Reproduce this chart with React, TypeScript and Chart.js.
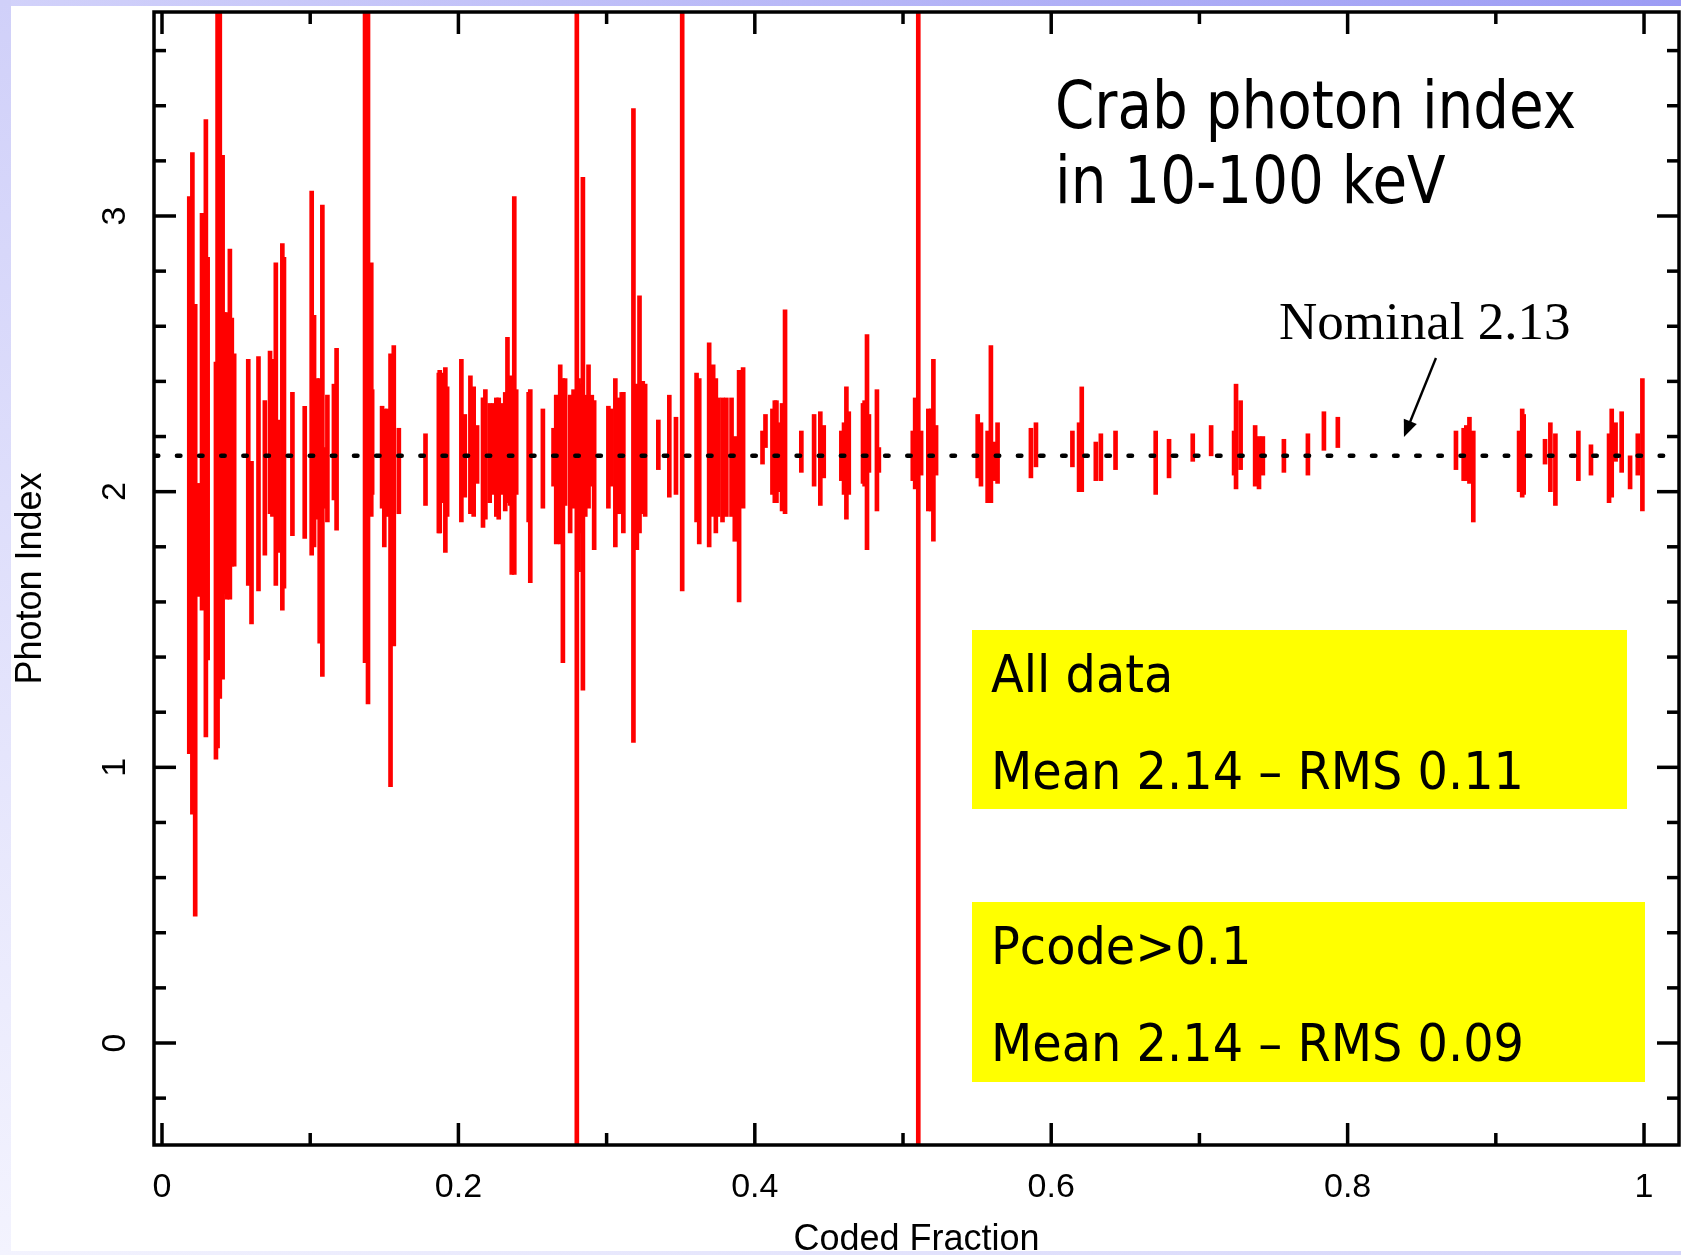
import React, { useEffect, useRef } from 'react';
import { Chart, registerables } from 'chart.js';

Chart.register(...registerables);

// ---- data: coded fraction vs photon index error bars (low / high) ----
const codedFraction = [
  0.0184, 0.0195, 0.0205, 0.0224, 0.0247, 0.0270, 0.0296, 0.0308, 0.0364, 0.0375,
  0.0390, 0.0409, 0.0420, 0.0438, 0.0458, 0.0471, 0.0487, 0.0582, 0.0604, 0.0651,
  0.0694, 0.0729, 0.0745, 0.0768, 0.0781, 0.0812, 0.0823, 0.0880, 0.0963, 0.1010,
  0.1026, 0.1044, 0.1064, 0.1082, 0.1098, 0.1116, 0.1160, 0.1178, 0.1370, 0.1390,
  0.1412, 0.1418, 0.1485, 0.1500, 0.1520, 0.1542, 0.1564, 0.1598, 0.1778, 0.1868,
  0.1874, 0.1897, 0.1912, 0.1924, 0.2020, 0.2043, 0.2081, 0.2103, 0.2126, 0.2166,
  0.2182, 0.2211, 0.2238, 0.2256, 0.2272, 0.2294, 0.2316, 0.2331, 0.2349, 0.2360,
  0.2377, 0.2390, 0.2474, 0.2485, 0.2570, 0.2642, 0.2660, 0.2687, 0.2705, 0.2720,
  0.2754, 0.2777, 0.2799, 0.2811, 0.2826, 0.2840, 0.2856, 0.2878, 0.2900, 0.2916,
  0.3012, 0.3030, 0.3059, 0.3079, 0.3102, 0.3113, 0.3181, 0.3204, 0.3222, 0.3244,
  0.3260, 0.3349, 0.3423, 0.3468, 0.3510, 0.3607, 0.3625, 0.3692, 0.3719, 0.3737,
  0.3753, 0.3782, 0.3808, 0.3843, 0.3865, 0.3894, 0.3921, 0.4052, 0.4072, 0.4119,
  0.4135, 0.4146, 0.4164, 0.4184, 0.4204, 0.4314, 0.4400, 0.4442, 0.4465, 0.4584,
  0.4602, 0.4618, 0.4634, 0.4730, 0.4741, 0.4757, 0.4770, 0.4824, 0.4837, 0.5066,
  0.5082, 0.5103, 0.5122, 0.5171, 0.5190, 0.5205, 0.5223, 0.5504, 0.5526, 0.5571,
  0.5593, 0.5616, 0.5638, 0.5863, 0.5897, 0.6143, 0.6188, 0.6206, 0.6301, 0.6335,
  0.6434, 0.6705, 0.6795, 0.6955, 0.7079, 0.7234, 0.7247, 0.7278, 0.7376, 0.7402,
  0.7428, 0.7570, 0.7732, 0.7840, 0.7934, 0.8731, 0.8783, 0.8801, 0.8822, 0.8848,
  0.9157, 0.9178, 0.9188, 0.9332, 0.9368, 0.9402, 0.9557, 0.9642, 0.9764, 0.9782,
  0.9808, 0.9849, 0.9906, 0.9958, 0.9989,
];

const photonIndexLow = [
  1.05, 1.07, 0.83, 0.46, 1.62, 1.57, 1.11, 1.39, 1.03, 1.07,
  1.25, 1.32, 1.63, 1.61, 1.61, 1.73, 1.73, 1.66, 1.52, 1.64,
  1.77, 1.92, 1.91, 1.66, 1.78, 1.57, 1.65, 1.84, 1.83, 1.77,
  1.80, 1.90, 1.45, 1.33, 1.94, 1.89, 1.97, 1.86, 1.38, 1.23,
  1.91, 1.99, 1.94, 1.80, 1.91, 0.93, 1.44, 1.92, 1.95, 1.85,
  1.85, 1.96, 1.78, 1.91, 1.89, 1.98, 1.92, 1.91, 2.03, 1.87,
  1.90, 1.96, 1.99, 1.91, 1.90, 1.99, 1.93, 1.96, 1.95, 1.70,
  1.70, 1.99, 1.89, 1.67, 1.94, 2.02, 1.81, 1.81, 1.38, 1.95,
  1.85, 1.94, -0.6, 1.71, 1.85, 1.28, 1.91, 1.94, 2.02, 1.79,
  1.94, 2.02, 1.80, 1.92, 1.92, 1.85, 1.09, 1.79, 1.85, 1.92,
  1.91, 2.08, 1.98, 1.99, 1.64, 1.89, 1.81, 1.80, 1.91, 1.85,
  1.91, 1.89, 1.91, 1.91, 1.82, 1.60, 1.94, 2.10, 2.16, 1.99,
  1.96, 1.96, 2.00, 1.93, 1.92, 2.07, 2.02, 1.95, 2.05, 2.04,
  1.99, 1.90, 1.99, 2.03, 2.02, 1.79, 2.07, 1.93, 2.07, 2.04,
  2.01, -0.6, 2.06, 1.93, 1.93, 1.82, 2.06, 2.05, 2.02, 1.96,
  1.96, 2.04, 2.03, 2.05, 2.09, 2.09, 2.00, 2.00, 2.04, 2.04,
  2.08, 1.99, 2.05, 2.11, 2.13, 2.06, 2.01, 2.08, 2.02, 2.01,
  2.06, 2.07, 2.06, 2.15, 2.16, 2.08, 2.04, 2.04, 2.03, 1.89,
  2.00, 1.98, 1.99, 2.10, 2.00, 1.95, 2.04, 2.06, 1.96, 1.98,
  2.11, 2.07, 2.01, 2.06, 1.93,
];

const photonIndexHigh = [
  3.07, 2.77, 3.23, 2.68, 2.03, 3.01, 3.35, 2.85, 2.47, 4.0,
  4.0, 3.22, 2.65, 2.65, 2.88, 2.63, 2.50, 2.48, 2.11, 2.49,
  2.33, 2.51, 2.48, 2.83, 2.26, 2.90, 2.85, 2.36, 2.31, 3.09,
  2.64, 2.41, 2.41, 3.04, 2.16, 2.35, 2.39, 2.52, 4.0, 4.0,
  2.83, 2.37, 2.31, 2.30, 2.30, 2.50, 2.53, 2.23, 2.21, 2.43,
  2.44, 2.43, 2.45, 2.38, 2.48, 2.28, 2.42, 2.38, 2.24, 2.34,
  2.37, 2.32, 2.32, 2.34, 2.34, 2.32, 2.36, 2.56, 2.42, 2.41,
  3.07, 2.37, 2.36, 2.37, 2.30, 2.23, 2.35, 2.46, 2.41, 2.41,
  2.35, 2.37, 4.0, 2.41, 2.39, 3.14, 2.35, 2.46, 2.35, 2.33,
  2.31, 2.30, 2.41, 2.34, 2.36, 2.36, 3.39, 2.39, 2.71, 2.40,
  2.39, 2.26, 2.35, 2.27, 4.0, 2.43, 2.41, 2.54, 2.46, 2.41,
  2.34, 2.34, 2.34, 2.34, 2.20, 2.44, 2.45, 2.22, 2.28, 2.30,
  2.33, 2.33, 2.25, 2.32, 2.66, 2.22, 2.28, 2.29, 2.24, 2.22,
  2.25, 2.38, 2.29, 2.32, 2.33, 2.57, 2.28, 2.37, 2.16, 2.22,
  2.34, 4.0, 2.22, 2.30, 2.30, 2.48, 2.24, 2.28, 2.25, 2.22,
  2.53, 2.18, 2.25, 2.23, 2.25, 2.22, 2.25, 2.38, 2.18, 2.21,
  2.22, 2.22, 2.19, 2.21, 2.24, 2.22, 2.39, 2.33, 2.24, 2.20,
  2.20, 2.19, 2.21, 2.29, 2.27, 2.22, 2.23, 2.24, 2.27, 2.22,
  2.22, 2.30, 2.28, 2.19, 2.25, 2.21, 2.22, 2.17, 2.21, 2.30,
  2.25, 2.29, 2.13, 2.21, 2.41,
];

const NOMINAL_INDEX = 2.13;
const X_MIN = -0.0054;
const X_MAX = 1.0236;
const Y_MIN = -0.37;
const Y_MAX = 3.74;

const xMajorTicks = [0, 0.2, 0.4, 0.6, 0.8, 1];
const xTickLabels = ['0', '0.2', '0.4', '0.6', '0.8', '1'];
const xMinorTicks = [0.1, 0.3, 0.5, 0.7, 0.9];
const yMajorTicks = [0, 1, 2, 3];
const yTickLabels = ['0', '1', '2', '3'];
const yMinorTicks = [-0.2, 0.2, 0.4, 0.6, 0.8, 1.2, 1.4, 1.6, 1.8, 2.2, 2.4, 2.6, 2.8, 3.2, 3.4, 3.6];

const xTitle = 'Coded Fraction';
const yTitle = 'Photon Index';

// annotation arrow (data coordinates)
const arrowTail = { x: 0.8596, y: 2.485 };
const arrowHead = { x: 0.838, y: 2.198 };

const framePlugin = {
  id: 'qdpFrame',
  afterDraw(chart: any) {
    const { ctx, chartArea, scales } = chart;
    const { left, right, top, bottom } = chartArea;
    const xs = scales.x;
    const ys = scales.y;
    const MAJOR = 22;
    const MINOR = 12;
    ctx.save();
    ctx.strokeStyle = '#000';
    ctx.fillStyle = '#000';
    ctx.lineWidth = 3.5;
    ctx.lineCap = 'butt';
    const seg = (x1: number, y1: number, x2: number, y2: number) => {
      ctx.beginPath();
      ctx.moveTo(x1, y1);
      ctx.lineTo(x2, y2);
      ctx.stroke();
    };
    xMajorTicks.forEach((v) => {
      const p = xs.getPixelForValue(v);
      seg(p, bottom, p, bottom - MAJOR);
      seg(p, top, p, top + MAJOR);
    });
    xMinorTicks.forEach((v) => {
      const p = xs.getPixelForValue(v);
      seg(p, bottom, p, bottom - MINOR);
      seg(p, top, p, top + MINOR);
    });
    yMajorTicks.forEach((v) => {
      const p = ys.getPixelForValue(v);
      seg(left, p, left + MAJOR, p);
      seg(right, p, right - MAJOR, p);
    });
    yMinorTicks.forEach((v) => {
      const p = ys.getPixelForValue(v);
      seg(left, p, left + MINOR, p);
      seg(right, p, right - MINOR, p);
    });
    ctx.lineJoin = 'miter';
    ctx.strokeRect(left, top, right - left, bottom - top);

    // tick labels
    ctx.font = '34px "Liberation Sans", Arial, sans-serif';
    ctx.textAlign = 'center';
    ctx.textBaseline = 'alphabetic';
    xMajorTicks.forEach((v, i) => {
      ctx.fillText(xTickLabels[i], xs.getPixelForValue(v), bottom + 52);
    });
    yMajorTicks.forEach((v, i) => {
      ctx.save();
      ctx.translate(left - 29, ys.getPixelForValue(v));
      ctx.rotate(-Math.PI / 2);
      ctx.fillText(yTickLabels[i], 0, 0);
      ctx.restore();
    });

    // axis titles
    ctx.font = '36px "Liberation Sans", Arial, sans-serif';
    ctx.fillText(xTitle, (left + right) / 2, bottom + 105);
    ctx.save();
    ctx.translate(left - 113, (top + bottom) / 2);
    ctx.rotate(-Math.PI / 2);
    ctx.fillText(yTitle, 0, 0);
    ctx.restore();

    // arrow to nominal line
    const tx = xs.getPixelForValue(arrowTail.x);
    const ty = ys.getPixelForValue(arrowTail.y);
    const hx = xs.getPixelForValue(arrowHead.x);
    const hy = ys.getPixelForValue(arrowHead.y);
    const ang = Math.atan2(hy - ty, hx - tx);
    const headLen = 17;
    const headW = 7;
    ctx.lineWidth = 2.4;
    seg(tx, ty, hx - Math.cos(ang) * headLen * 0.8, hy - Math.sin(ang) * headLen * 0.8);
    ctx.beginPath();
    ctx.moveTo(hx, hy);
    ctx.lineTo(hx - Math.cos(ang) * headLen - Math.sin(ang) * headW, hy - Math.sin(ang) * headLen + Math.cos(ang) * headW);
    ctx.lineTo(hx - Math.cos(ang) * headLen + Math.sin(ang) * headW, hy - Math.sin(ang) * headLen - Math.cos(ang) * headW);
    ctx.closePath();
    ctx.fill();
    ctx.restore();
  },
};

const tahomaLike = '"DejaVu Sans", Verdana, sans-serif';

const textStyle = (left: number, top: number, size: number, family: string, sx: number): React.CSSProperties => ({
  position: 'absolute',
  left,
  top,
  fontFamily: family,
  fontSize: size,
  lineHeight: 1,
  whiteSpace: 'nowrap',
  color: '#000',
  transform: `scaleX(${sx})`,
  transformOrigin: '0 0',
});

export default function App() {
  const canvasRef = useRef<HTMLCanvasElement | null>(null);

  useEffect(() => {
    document.body.style.margin = '0';
    const canvas = canvasRef.current;
    if (!canvas) return;
    const chart = new Chart(canvas, {
      type: 'bar',
      data: {
        datasets: [
          {
            type: 'line',
            label: 'Nominal 2.13',
            data: [
              { x: X_MIN, y: NOMINAL_INDEX },
              { x: X_MAX, y: NOMINAL_INDEX },
            ],
            borderColor: '#000',
            borderWidth: 4.5,
            borderDash: [3.5, 18.63],
            borderDashOffset: -0.8,
            borderCapStyle: 'round',
            pointRadius: 0,
            fill: false,
            order: 0,
          } as any,
          {
            type: 'bar',
            label: 'Photon index',
            data: codedFraction.map((x, i) => ({ x, y: [photonIndexLow[i], photonIndexHigh[i]] })),
            backgroundColor: '#ff0000',
            borderWidth: 0,
            barThickness: 4,
            grouped: false,
            order: 1,
          } as any,
        ],
      },
      options: {
        animation: false,
        responsive: false,
        devicePixelRatio: 1,
        layout: { padding: { left: 0, top: 12, right: 2, bottom: 0 } },
        plugins: { legend: { display: false }, tooltip: { enabled: false } },
        scales: {
          x: {
            type: 'linear',
            min: X_MIN,
            max: X_MAX,
            offset: false,
            grid: { display: false },
            border: { display: false },
            ticks: { display: false },
            afterFit: (s: any) => {
              s.height = 110;
            },
          },
          y: {
            type: 'linear',
            min: Y_MIN,
            max: Y_MAX,
            grid: { display: false },
            border: { display: false },
            ticks: { display: false },
            afterFit: (s: any) => {
              s.width = 154;
            },
          },
        },
      } as any,
      plugins: [framePlugin],
    });
    return () => chart.destroy();
  }, []);

  return (
    <div style={{ position: 'absolute', left: 0, top: 0, width: 1681, height: 1255, overflow: 'hidden', background: '#fff' }}>
      <canvas ref={canvasRef} width={1681} height={1255} style={{ position: 'absolute', left: 0, top: 0, width: 1681, height: 1255 }} />
      {/* slide border */}
      <div style={{ position: 'absolute', left: 0, top: 0, width: 1681, height: 6, background: 'linear-gradient(to right, #d2d2fa, #9c9cf4)' }} />
      <div style={{ position: 'absolute', left: 0, top: 0, width: 11, height: 1255, background: 'linear-gradient(to bottom, #d0d0f9, #f3f3fe)' }} />
      <div style={{ position: 'absolute', left: 0, top: 1251, width: 1681, height: 4, background: 'linear-gradient(to right, #f3f3fe, #d4d4fa)' }} />

      {/* title */}
      <div style={textStyle(1055, 73, 65, tahomaLike, 0.867)}>Crab photon index</div>
      <div style={textStyle(1055, 148, 65, tahomaLike, 0.867)}>in 10-100 keV</div>

      {/* nominal label */}
      <div style={textStyle(1279, 295, 53, '"Liberation Serif", "Times New Roman", serif', 1)}>Nominal 2.13</div>

      {/* yellow boxes */}
      <div style={{ position: 'absolute', left: 972, top: 630, width: 655, height: 179, background: '#ffff00' }} />
      <div style={textStyle(991, 648, 52, tahomaLike, 0.92)}>All data</div>
      <div style={textStyle(991, 745, 52, tahomaLike, 0.92)}>Mean 2.14 – RMS 0.11</div>

      <div style={{ position: 'absolute', left: 972, top: 902, width: 673, height: 180, background: '#ffff00' }} />
      <div style={textStyle(991, 920, 52, tahomaLike, 0.92)}>Pcode&gt;0.1</div>
      <div style={textStyle(991, 1017, 52, tahomaLike, 0.92)}>Mean 2.14 – RMS 0.09</div>
    </div>
  );
}
